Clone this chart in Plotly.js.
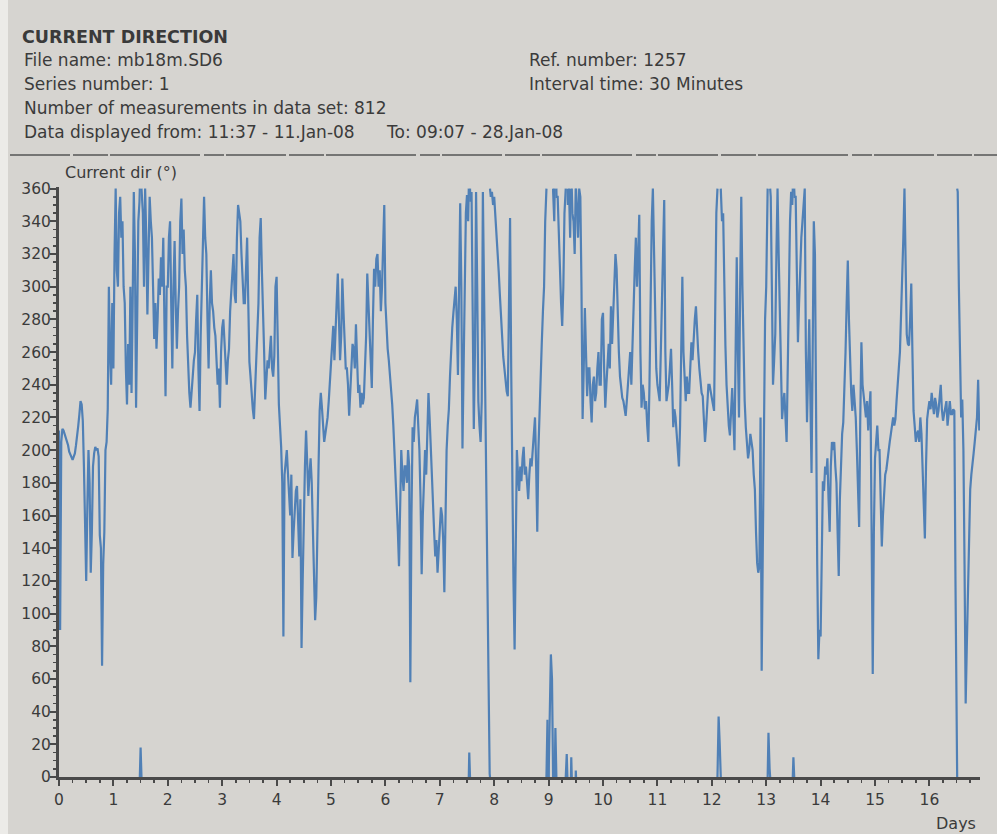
<!DOCTYPE html>
<html>
<head>
<meta charset="utf-8">
<script src="https://cdn.plot.ly/plotly-3.0.1.min.js"></script>
<style>html,body{margin:0;padding:0;background:#d6d4d0;}#chart{width:997px;height:834px;}</style>
</head>
<body>
<div id="chart"></div>
<script>
// ---- header texts ----
const titleText = 'CURRENT DIRECTION';
const fileName = 'File name: mb18m.SD6';
const seriesNumber = 'Series number: 1';
const measurements = 'Number of measurements in data set: 812';
const displayed = 'Data displayed from: 11:37 - 11.Jan-08\u00a0\u00a0\u00a0\u00a0\u00a0\u00a0To: 09:07 - 28.Jan-08';
const refNumber = 'Ref. number: 1257';
const intervalTime = 'Interval time: 30 Minutes';
const yLabel = 'Current dir (°)';
const xLabel = 'Days';

// ---- data: current direction (deg), one reading every 30 minutes, one array per day since start ----
const intervalMinutes = 30;
const dirDay00 = [212, 90, 205, 213, 212, 210, 208, 205, 203, 199, 197, 195, 194, 196, 198, 203,
  208, 215, 222, 230, 228, 218, 190, 160, 120, 165, 200, 180, 125, 150, 190, 198,
  202, 200, 201, 196, 148, 140, 68, 130, 150, 200, 205, 225, 300, 260, 240, 290];
const dirDay01 = [250, 320, 360, 310, 300, 345, 355, 330, 340, 300, 290, 250, 228, 265, 240, 300,
  235, 290, 358, 320, 226, 280, 340, 352, 18, 355, 345, 300, 360, 330, 283, 320,
  355, 340, 330, 300, 268, 290, 262, 280, 305, 295, 318, 300, 330, 280, 233, 300];
const dirDay02 = [300, 330, 340, 290, 250, 300, 328, 290, 262, 285, 300, 340, 354, 320, 335, 310,
  300, 270, 250, 235, 226, 240, 245, 255, 260, 280, 295, 250, 224, 270, 300, 330,
  355, 330, 320, 280, 250, 290, 310, 290, 285, 275, 270, 255, 240, 250, 226, 260];
const dirDay03 = [275, 280, 265, 250, 240, 255, 262, 285, 300, 310, 320, 295, 290, 330, 350, 345,
  340, 320, 300, 290, 290, 315, 330, 290, 254, 245, 230, 225, 219, 235, 260, 275,
  290, 330, 342, 310, 290, 260, 231, 245, 255, 250, 262, 270, 250, 245, 258, 300];
const dirDay04 = [306, 260, 228, 215, 202, 180, 86, 185, 195, 200, 186, 175, 160, 185, 134, 150,
  165, 175, 178, 160, 135, 170, 79, 120, 160, 190, 212, 190, 172, 185, 195, 180,
  150, 120, 96, 110, 140, 190, 224, 235, 226, 215, 205, 210, 215, 220, 230, 240];
const dirDay05 = [250, 262, 276, 255, 270, 290, 308, 280, 255, 270, 305, 285, 265, 250, 250, 240,
  221, 235, 250, 265, 262, 250, 277, 260, 235, 240, 226, 235, 228, 232, 250, 270,
  308, 290, 270, 250, 238, 280, 311, 300, 317, 320, 300, 310, 285, 300, 337, 350];
const dirDay06 = [290, 270, 262, 255, 247, 240, 228, 215, 200, 180, 167, 150, 129, 175, 200, 185,
  175, 190, 190, 180, 200, 190, 58, 160, 214, 205, 220, 225, 231, 215, 200, 170,
  124, 160, 190, 200, 185, 210, 235, 220, 200, 185, 160, 150, 135, 145, 125, 140];
const dirDay07 = [150, 165, 160, 145, 113, 160, 200, 215, 225, 245, 262, 275, 284, 295, 300, 280,
  246, 300, 351, 300, 201, 250, 300, 345, 356, 340, 15, 352, 358, 300, 213, 260,
  358, 300, 230, 215, 205, 230, 358, 300, 228, 200, 120, 60, 2, 355, 358, 350];
const dirDay08 = [355, 345, 335, 320, 309, 295, 280, 270, 257, 250, 240, 236, 233, 300, 342, 250,
  169, 120, 78, 150, 200, 185, 175, 190, 181, 195, 202, 185, 190, 180, 170, 185,
  195, 190, 200, 210, 220, 190, 150, 200, 226, 245, 266, 285, 300, 340, 356, 35];
const dirDay09 = [360, 40, 75, 60, 358, 340, 30, 355, 355, 330, 320, 290, 276, 300, 345, 358,
  14, 350, 360, 330, 12, 345, 340, 320, 4, 345, 330, 360, 355, 300, 219, 250,
  287, 260, 233, 250, 250, 230, 217, 240, 245, 230, 235, 250, 260, 240, 240, 280];
const dirDay10 = [284, 250, 226, 240, 255, 265, 250, 288, 265, 280, 300, 320, 311, 280, 260, 245,
  238, 232, 230, 225, 221, 230, 240, 250, 260, 240, 270, 290, 311, 330, 300, 320,
  344, 260, 226, 240, 235, 225, 230, 215, 205, 240, 300, 340, 360, 320, 280, 250];
const dirDay11 = [240, 235, 230, 260, 290, 330, 353, 260, 230, 235, 240, 250, 262, 240, 214, 225,
  220, 210, 200, 190, 215, 260, 306, 260, 240, 230, 245, 235, 235, 250, 266, 255,
  270, 280, 288, 270, 260, 250, 240, 235, 233, 220, 205, 215, 233, 240, 240, 235];
const dirDay12 = [230, 228, 224, 300, 345, 360, 37, 20, 358, 340, 345, 300, 264, 240, 224, 215,
  209, 225, 238, 220, 200, 260, 318, 260, 220, 300, 355, 300, 260, 230, 214, 205,
  195, 200, 210, 205, 200, 185, 176, 150, 131, 125, 129, 220, 65, 140, 220, 280];
const dirDay13 = [300, 350, 27, 5, 355, 300, 240, 255, 271, 320, 360, 320, 280, 250, 219, 228,
  235, 220, 205, 250, 300, 340, 358, 350, 12, 355, 355, 300, 266, 290, 318, 330,
  340, 350, 360, 260, 217, 250, 280, 230, 186, 260, 340, 320, 200, 130, 72, 90];
const dirDay14 = [86, 150, 181, 175, 190, 185, 195, 170, 150, 190, 205, 200, 205, 190, 180, 150,
  123, 170, 200, 210, 217, 235, 260, 290, 316, 280, 250, 235, 224, 240, 230, 220,
  200, 175, 153, 220, 266, 240, 233, 225, 220, 230, 212, 225, 236, 150, 63, 150];
const dirDay15 = [195, 205, 215, 200, 200, 170, 141, 160, 176, 185, 188, 195, 200, 205, 210, 215,
  220, 215, 219, 230, 238, 250, 260, 280, 306, 330, 360, 300, 271, 265, 264, 280,
  302, 260, 224, 215, 205, 210, 212, 205, 220, 210, 190, 170, 146, 190, 219, 225];
const dirDay16 = [230, 225, 235, 228, 222, 232, 228, 220, 224, 232, 240, 225, 218, 222, 226, 230,
  215, 225, 230, 222, 222, 225, 224, 120, 2, 358, 300, 250, 220, 231, 200, 130,
  45, 80, 110, 150, 176, 185, 190, 198, 205, 215, 220, 243, 212];

const days = [dirDay00, dirDay01, dirDay02, dirDay03, dirDay04, dirDay05, dirDay06, dirDay07, dirDay08,
  dirDay09, dirDay10, dirDay11, dirDay12, dirDay13, dirDay14, dirDay15, dirDay16];

// time axis (days since start) and values
const t = [], v = [];
days.forEach((arr, d) => arr.forEach((val, k) => { t.push(d + k * intervalMinutes / 1440); v.push(val); }));

// wrap-around drawing: a jump across north is drawn to the top edge and continued from the bottom edge
const X = [], Y = [];
for (let i = 0; i < v.length; i++) {
  if (i > 0) {
    const a = v[i - 1], b = v[i], ta = t[i - 1], tb = t[i];
    if (Math.abs(b - a) > 180) {
      if (a > b) {
        const tc = ta + (tb - ta) * (360 - a) / ((360 - a) + b);
        X.push(tc, null, tc); Y.push(360, null, 0);
      } else {
        const tc = ta + (tb - ta) * a / (a + (360 - b));
        X.push(tc, null, tc); Y.push(0, null, 360);
      }
    }
  }
  X.push(t[i]); Y.push(v[i]);
}

// pixel helpers for annotations (plot area: left 59, right 980, top 187, bottom 777)
const L = 59, R = 17, T = 187, B = 57, W = 997 - L - R, H = 834 - T - B;
const px = x => (x - L) / W;
const py = y => (834 - B - y) / H;

const font = 'DejaVu Sans, Verdana, sans-serif';
const txtColor = '#3b3b3b';
const textAnn = (text, x, y, size, anchor) => ({
  text, x: px(x), y: py(y), xref: 'paper', yref: 'paper', xanchor: anchor || 'left', yanchor: 'middle',
  showarrow: false, font: {family: font, size: size, color: txtColor}
});

const layout = {
  width: 997, height: 834,
  margin: {l: L, r: R, t: T, b: B},
  paper_bgcolor: '#d6d4d0', plot_bgcolor: '#d6d4d0',
  showlegend: false,
  title: {text: '<b>' + titleText + '</b>', x: 22 / 997, xanchor: 'left', xref: 'container',
    y: 1 - 37 / 834, yanchor: 'middle', yref: 'container',
    font: {family: font, size: 17.5, color: '#3a3a3a'}},
  xaxis: {
    range: [0, 16.93], showgrid: false, zeroline: false,
    showline: true, linecolor: '#4a4a4a', linewidth: 3,
    ticks: 'outside', ticklen: 6, tickwidth: 2, tickcolor: '#4a4a4a',
    dtick: 1, tick0: 0,
    minor: {dtick: 0.25, ticks: 'outside', ticklen: 3, tickwidth: 1.5, tickcolor: '#4a4a4a'},
    tickfont: {family: font, size: 15.5, color: txtColor}
  },
  yaxis: {
    range: [0, 361], showgrid: false, zeroline: false,
    showline: true, linecolor: '#4a4a4a', linewidth: 3,
    ticks: 'outside', ticklen: 6, tickwidth: 2, tickcolor: '#4a4a4a',
    dtick: 20, tick0: 0, ticklabelstandoff: -4,
    minor: {dtick: 5, ticks: 'outside', ticklen: 3, tickwidth: 1.5, tickcolor: '#4a4a4a'},
    tickfont: {family: font, size: 15.5, color: txtColor}
  },
  shapes: [
    {type: 'line', xref: 'paper', yref: 'paper', x0: px(10), x1: px(997), y0: py(155), y1: py(155),
      line: {color: '#555', width: 1.5, dash: '60px,3px,35px,2px,90px,4px,20px,2px'}},
    {type: 'rect', xref: 'paper', yref: 'paper', x0: px(0), x1: px(8), y0: py(834), y1: py(0),
      fillcolor: '#ecebe8', line: {width: 0}, layer: 'below'}
  ],
  annotations: [
    textAnn(fileName, 22, 60, 17),
    textAnn(seriesNumber, 22, 84, 17),
    textAnn(measurements, 22, 108, 17),
    textAnn(displayed, 22, 132, 17),
    textAnn(refNumber, 527, 60, 17),
    textAnn(intervalTime, 527, 84, 17),
    textAnn(yLabel, 63, 172, 16),
    textAnn(xLabel, 978, 823, 16, 'right')
  ]
};

Plotly.newPlot('chart', [{
  type: 'scatter', mode: 'lines', x: X, y: Y, connectgaps: false,
  line: {color: '#5080b6', width: 2.2}, hoverinfo: 'skip'
}], layout, {staticPlot: true, displayModeBar: false});
</script>
</body>
</html>
